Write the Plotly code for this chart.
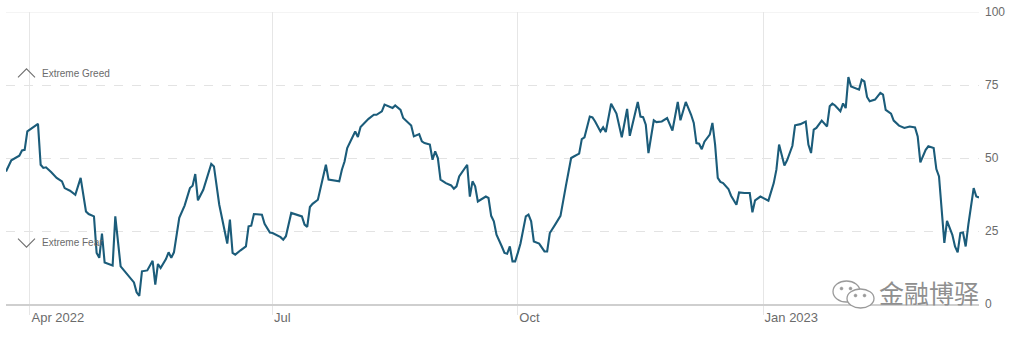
import plotly.graph_objects as go

# ---- data (Fear & Greed index) ----
dates = [
    "2022-03-23", "2022-03-25", "2022-03-28", "2022-03-29", "2022-03-30", "2022-03-31",
    "2022-04-04", "2022-04-05", "2022-04-06", "2022-04-07", "2022-04-09", "2022-04-11",
    "2022-04-13", "2022-04-14", "2022-04-16", "2022-04-18", "2022-04-20", "2022-04-22",
    "2022-04-23", "2022-04-25", "2022-04-26", "2022-04-27", "2022-04-28", "2022-04-29",
    "2022-05-02", "2022-05-03", "2022-05-05", "2022-05-07", "2022-05-09", "2022-05-10",
    "2022-05-11", "2022-05-12", "2022-05-13", "2022-05-15", "2022-05-17", "2022-05-18",
    "2022-05-19", "2022-05-20", "2022-05-22", "2022-05-23", "2022-05-24", "2022-05-25",
    "2022-05-27", "2022-05-29", "2022-05-31", "2022-06-01", "2022-06-02", "2022-06-03",
    "2022-06-05", "2022-06-08", "2022-06-09", "2022-06-11", "2022-06-14", "2022-06-15",
    "2022-06-16", "2022-06-17", "2022-06-19", "2022-06-21", "2022-06-22", "2022-06-23",
    "2022-06-24", "2022-06-27", "2022-06-28", "2022-06-30", "2022-07-01", "2022-07-04",
    "2022-07-05", "2022-07-06", "2022-07-08", "2022-07-10", "2022-07-12", "2022-07-13",
    "2022-07-14", "2022-07-15", "2022-07-16", "2022-07-18", "2022-07-19", "2022-07-20",
    "2022-07-21", "2022-07-22", "2022-07-24", "2022-07-26", "2022-07-27", "2022-07-28",
    "2022-07-29", "2022-08-01", "2022-08-02", "2022-08-03", "2022-08-06", "2022-08-08",
    "2022-08-09", "2022-08-11", "2022-08-12", "2022-08-15", "2022-08-16", "2022-08-18",
    "2022-08-19", "2022-08-22", "2022-08-23", "2022-08-25", "2022-08-26", "2022-08-27",
    "2022-08-29", "2022-08-30", "2022-08-31", "2022-09-01", "2022-09-02", "2022-09-04",
    "2022-09-06", "2022-09-07", "2022-09-08", "2022-09-09", "2022-09-12", "2022-09-13",
    "2022-09-14", "2022-09-15", "2022-09-16", "2022-09-19", "2022-09-20", "2022-09-21",
    "2022-09-22", "2022-09-23", "2022-09-25", "2022-09-26", "2022-09-27", "2022-09-28",
    "2022-09-29", "2022-09-30", "2022-10-01", "2022-10-02", "2022-10-04", "2022-10-05",
    "2022-10-06", "2022-10-07", "2022-10-09", "2022-10-10", "2022-10-11", "2022-10-12",
    "2022-10-13", "2022-10-15", "2022-10-17", "2022-10-19", "2022-10-21", "2022-10-22",
    "2022-10-24", "2022-10-25", "2022-10-26", "2022-10-28", "2022-10-29", "2022-10-30",
    "2022-11-01", "2022-11-02", "2022-11-03", "2022-11-05", "2022-11-07", "2022-11-09",
    "2022-11-11", "2022-11-12", "2022-11-15", "2022-11-16", "2022-11-17", "2022-11-18",
    "2022-11-19", "2022-11-21", "2022-11-22", "2022-11-24", "2022-11-26", "2022-11-28",
    "2022-11-30", "2022-12-01", "2022-12-03", "2022-12-05", "2022-12-06", "2022-12-07",
    "2022-12-08", "2022-12-09", "2022-12-10", "2022-12-12", "2022-12-13", "2022-12-14",
    "2022-12-15", "2022-12-16", "2022-12-17", "2022-12-19", "2022-12-20", "2022-12-22",
    "2022-12-23", "2022-12-25", "2022-12-27", "2022-12-28", "2022-12-29", "2022-12-31",
    "2023-01-03", "2023-01-05", "2023-01-06", "2023-01-07", "2023-01-09", "2023-01-10",
    "2023-01-12", "2023-01-13", "2023-01-15", "2023-01-17", "2023-01-18", "2023-01-19",
    "2023-01-20", "2023-01-21", "2023-01-23", "2023-01-25", "2023-01-26", "2023-01-27",
    "2023-01-28", "2023-01-30", "2023-01-31", "2023-02-01", "2023-02-02", "2023-02-03",
    "2023-02-06", "2023-02-07", "2023-02-08", "2023-02-09", "2023-02-10", "2023-02-12",
    "2023-02-14", "2023-02-15", "2023-02-16", "2023-02-18", "2023-02-19", "2023-02-21",
    "2023-02-23", "2023-02-25", "2023-02-27", "2023-02-28", "2023-03-01", "2023-03-03",
    "2023-03-04", "2023-03-06", "2023-03-07", "2023-03-08", "2023-03-10", "2023-03-11",
    "2023-03-13", "2023-03-14", "2023-03-15", "2023-03-16", "2023-03-17", "2023-03-18",
    "2023-03-19", "2023-03-21", "2023-03-22", "2023-03-23",
]
values = [
    45.4, 49.2, 50.8, 52.6, 52.8, 59.1,
    61.7, 47.7, 46.6, 46.8, 45.1, 43.2,
    42.0, 39.7, 38.8, 37.4, 43.2, 31.7,
    30.8, 30.0, 17.5, 15.8, 24.1, 14.2,
    13.2, 30.0, 12.9, 10.6, 8.6, 7.4,
    4.0, 2.8, 11.2, 11.5, 14.8, 6.6,
    13.7, 12.3, 15.4, 17.7, 15.8, 17.7,
    29.5, 33.7, 39.7, 40.5, 44.5, 35.5,
    39.1, 48.0, 47.1, 34.0, 20.7, 28.9,
    17.5, 16.9, 18.4, 19.7, 26.6, 26.8,
    30.8, 30.6, 27.5, 24.5, 24.3, 22.9,
    22.0, 23.2, 31.2, 30.6, 30.0, 27.2,
    26.4, 33.2, 34.3, 35.7, 39.7, 44.3,
    47.7, 42.6, 42.3, 42.0, 46.0, 48.8,
    53.4, 59.1, 57.2, 60.6, 63.4, 64.8,
    64.8, 66.0, 68.3, 67.1, 68.0, 66.5,
    63.7, 61.1, 57.4, 58.2, 55.7, 55.1,
    54.6, 49.4, 52.3, 50.0, 42.6, 41.4,
    40.6, 39.5, 40.3, 43.7, 47.7, 36.8,
    42.0, 40.3, 35.1, 36.8, 36.3, 30.2,
    28.3, 23.7, 19.7, 17.5, 17.2, 19.7,
    14.6, 14.6, 17.5, 20.7, 30.0, 30.6,
    28.3, 21.4, 20.7, 19.5, 18.0, 18.0,
    24.3, 27.2, 30.2, 40.3, 50.0, 50.5,
    51.5, 56.5, 57.1, 64.2, 63.9, 62.5,
    59.1, 60.5, 58.9, 68.6, 65.2, 57.1,
    66.8, 57.6, 69.2, 64.2, 64.0, 61.4,
    51.7, 62.9, 62.3, 62.5, 63.7, 59.4,
    69.2, 62.9, 69.2, 64.8, 62.0, 55.1,
    54.9, 53.0, 55.6, 58.0, 62.0, 54.6,
    43.2, 41.8, 41.4, 39.4, 37.1, 34.0,
    38.2, 38.0, 38.0, 31.4, 35.5, 36.8,
    35.4, 41.4, 46.0, 54.6, 47.4, 49.2,
    54.2, 61.2, 61.6, 62.5, 54.6, 51.7,
    59.7, 60.3, 62.8, 60.8, 67.7, 68.6,
    68.0, 66.0, 68.7, 67.1, 77.7, 74.5,
    73.4, 76.8, 76.2, 70.9, 69.4, 70.0,
    72.3, 71.7, 66.5, 65.2, 62.8, 61.1,
    60.3, 60.8, 60.5, 57.4, 48.5, 52.8,
    54.0, 53.4, 46.2, 43.7, 20.9, 28.5,
    23.7, 19.7, 17.7, 24.3, 24.5, 19.7,
    27.2, 39.7, 36.8, 36.5,
]

x_tick_vals = ["2022-04-01", "2022-07-01", "2022-10-01", "2023-01-01"]
x_tick_text = ["Apr 2022", "Jul", "Oct", "Jan 2023"]
y_tick_vals = [0, 25, 50, 75, 100]
zone_labels = ["Extreme Greed", "Extreme Fear"]
zone_levels = [79, 21]
watermark = "金融博驿"

LINE = "#1b5c7a"
GRID = "#e6e6e6"
TXT = "#6b6b6b"
FONT = "Liberation Sans, Arial, sans-serif"

fig = go.Figure()
fig.add_trace(go.Scatter(
    x=dates, y=values, mode="lines",
    line=dict(color=LINE, width=2.1),
    hoverinfo="skip", showlegend=False,
))

W, H = 1011, 337
ml, mr, mt, mb = 6, 32, 12, 33
pw, ph = W - ml - mr, H - mt - mb

fig.update_layout(
    width=W, height=H,
    margin=dict(l=ml, r=mr, t=mt, b=mb, pad=0),
    paper_bgcolor="white", plot_bgcolor="white",
    font=dict(family=FONT, color=TXT),
    showlegend=False,
)
fig.update_xaxes(
    range=["2022-03-23", "2023-03-23"],
    tickvals=x_tick_vals, ticktext=x_tick_text,
    ticklabelposition="outside right",
    showgrid=True, gridcolor=GRID, gridwidth=1,
    ticks="outside", ticklen=9, tickcolor=GRID, tickwidth=1,
    tickfont=dict(size=13, color=TXT),
    showline=True, linecolor="#cfcfcf", linewidth=2,
    zeroline=False, fixedrange=True,
)
fig.update_yaxes(
    range=[0, 100], side="right",
    tickvals=y_tick_vals,
    showgrid=True, gridcolor="#e3e3e3", gridwidth=1, griddash="dash",
    tickfont=dict(size=12, color=TXT),
    ticks="", ticklabelstandoff=5,
    showline=False, zeroline=False, fixedrange=True,
)

# solid top reference line at 100
fig.add_shape(type="line", xref="paper", yref="y", x0=0, x1=1, y0=100, y1=100,
              line=dict(color="#e9e9e9", width=1), layer="below")


def px2paper(px, py):
    return (px - ml) / pw, (H - mb - py) / ph


# zone labels with chevrons
for label, lvl, up in zip(zone_labels, zone_levels, [True, False]):
    fig.add_annotation(x=0, xref="paper", xshift=34, y=lvl, yref="y",
                       text=label, showarrow=False, xanchor="left", yanchor="middle",
                       font=dict(size=10, color=TXT, family=FONT))
    cy = H - mb - (lvl / 100) * ph
    if up:
        pts = [(18, cy + 4), (26.5, cy - 4.5), (35, cy + 4)]
    else:
        pts = [(18, cy - 4), (26.5, cy + 4.5), (35, cy - 4)]
    path = "M " + " L ".join(f"{px2paper(a, b)[0]:.5f},{px2paper(a, b)[1]:.5f}" for a, b in pts)
    fig.add_shape(type="path", xref="paper", yref="paper", path=path,
                  line=dict(color="#6f6f6f", width=1.1))


# watermark: WeChat-like logo + text
def ell(x0, y0, x1, y1, fill, lc="#9a9a9a", lw=1.3):
    a0, b1 = px2paper(x0, y0)
    a1, b0 = px2paper(x1, y1)
    fig.add_shape(type="circle", xref="paper", yref="paper", x0=a0, x1=a1, y0=b0, y1=b1,
                  line=dict(color=lc, width=lw), fillcolor=fill)


ell(833, 281, 860, 302, "rgba(255,255,255,0.6)")
ell(840, 287, 843, 290, "#9a9a9a", lw=0.5)
ell(849, 287, 852, 290, "#9a9a9a", lw=0.5)
ell(847, 289, 874, 308, "white")
ell(854, 294, 857, 297, "#9a9a9a", lw=0.5)
ell(863, 294, 866, 297, "#9a9a9a", lw=0.5)

wx, wy = px2paper(929, 292)
fig.add_annotation(x=wx, y=wy, xref="paper", yref="paper",
                   text=watermark, showarrow=False, xanchor="center", yanchor="middle",
                   font=dict(size=25, color="#8f8f8f", family="Noto Sans CJK SC"))

fig.write_html("out.html")
